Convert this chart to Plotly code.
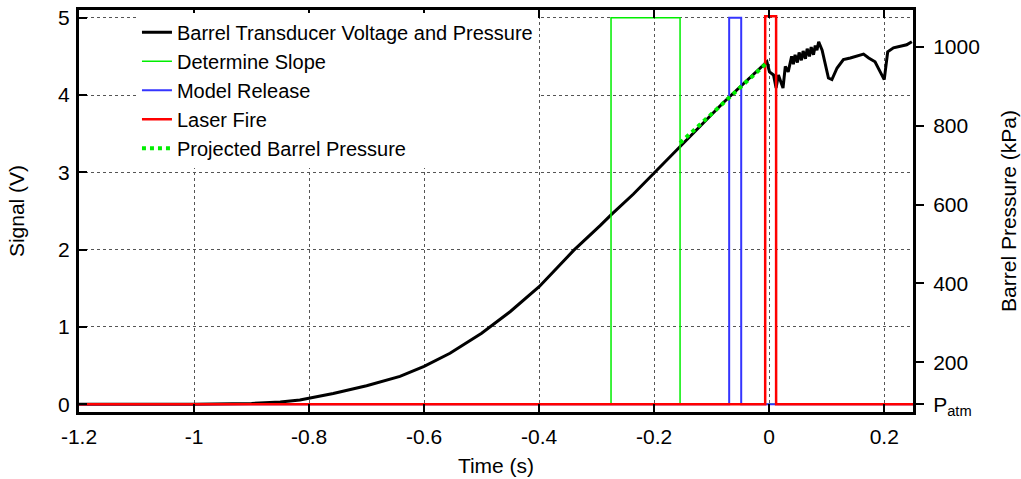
import plotly.graph_objects as go

# ---- data ----
volt_t = [-1.2, -1.0, -0.9, -0.85, -0.816, -0.8, -0.758, -0.7, -0.642, -0.6, -0.555, -0.5,
          -0.45, -0.4, -0.34, -0.294, -0.275, -0.236, -0.2, -0.161, -0.08,
          -0.004, 0.0005, 0.0075, 0.012, 0.016, 0.024, 0.028, 0.033, 0.039, 0.042,
          0.045, 0.049, 0.052, 0.056, 0.059, 0.063, 0.066, 0.07, 0.073, 0.077, 0.08, 0.083,
          0.086, 0.092, 0.103, 0.109, 0.118, 0.129, 0.141, 0.152, 0.164, 0.173, 0.184,
          0.193, 0.2, 0.206, 0.216, 0.228, 0.239, 0.248]
volt_v = [0.0, 0.0, 0.01, 0.03, 0.056, 0.077, 0.14, 0.24, 0.36, 0.49, 0.66, 0.92,
          1.20, 1.52, 1.99, 2.31, 2.45, 2.72, 2.99, 3.29, 3.9,
          4.43, 4.30, 4.26, 4.09, 4.26, 4.09, 4.37, 4.30, 4.50, 4.40,
          4.52, 4.42, 4.55, 4.45, 4.57, 4.47, 4.60, 4.50, 4.62, 4.52, 4.64, 4.58,
          4.69, 4.58, 4.22, 4.20, 4.35, 4.46, 4.48, 4.50, 4.53, 4.48, 4.43,
          4.30, 4.20, 4.56, 4.61, 4.63, 4.65, 4.69]

slope_t = [-1.2, -0.275, -0.275, -0.155, -0.155, 0.25]
slope_v = [0, 0, 5.0, 5.0, 0, 0]

release_t = [-1.2, -0.0696, -0.0696, -0.0487, -0.0487, 0.25]
release_v = [0, 0, 5.0, 5.0, 0, 0]

laser_t = [-1.2, -0.007, -0.007, 0.012, 0.012, 0.25]
laser_v = [0, 0, 5.02, 5.02, 0, 0]

proj_t = [-0.155, -0.002]
proj_v = [3.38, 4.43]

x_ticks = [-1.2, -1.0, -0.8, -0.6, -0.4, -0.2, 0.0, 0.2]
x_labels = ["-1.2", "-1", "-0.8", "-0.6", "-0.4", "-0.2", "0", "0.2"]
y_ticks = [0, 1, 2, 3, 4, 5]
p_atm = 93.3          # kPa at 0 V
kpa_per_volt = 196.1
p_ticks = [p_atm, 200, 400, 600, 800, 1000]
p_labels = ["P<sub>atm</sub>", "200", "400", "600", "800", "1000"]

v_range = [-0.1, 5.1]
p_range = [p_atm + kpa_per_volt * v for v in v_range]

FONT = "Liberation Sans, Arial, Helvetica, sans-serif"
TF = dict(family=FONT, size=21, color="black")

fig = go.Figure()
fig.add_trace(go.Scatter(x=volt_t, y=volt_v, mode="lines", name="Barrel Transducer Voltage and Pressure",
                         line=dict(color="black", width=3)))
fig.add_trace(go.Scatter(x=slope_t, y=slope_v, mode="lines", name="Determine Slope",
                         line=dict(color="#00ee00", width=1.5)))
fig.add_trace(go.Scatter(x=release_t, y=release_v, mode="lines", name="Model Release",
                         line=dict(color="#3535ff", width=2)))
fig.add_trace(go.Scatter(x=laser_t, y=laser_v, mode="lines", name="Laser Fire",
                         line=dict(color="#ff0000", width=2.5)))
fig.add_trace(go.Scatter(x=proj_t, y=proj_v, mode="lines", name="Projected Barrel Pressure",
                         line=dict(color="#00ee00", width=4, dash="dot")))
fig.add_trace(go.Scatter(x=[None], y=[None], yaxis="y2", showlegend=False, hoverinfo="skip"))

fig.update_layout(
    template="none",
    width=1021, height=479,
    margin=dict(l=79, r=108, t=10, b=67, autoexpand=False),
    paper_bgcolor="white", plot_bgcolor="white",
    font=TF,
    showlegend=True,
    legend=dict(x=0.0695, y=0.993, xanchor="left", yanchor="top", bgcolor="white",
                font=dict(family=FONT, size=20, color="black"), tracegroupgap=0, borderwidth=0),
    xaxis=dict(range=[-1.2, 0.25], tickvals=x_ticks, ticktext=x_labels, automargin=False,
               ticks="inside", ticklen=8, tickwidth=1.5, tickcolor="black", tickfont=TF,
               ticklabelstandoff=4, ticklabeloverflow="allow",
               showline=True, linewidth=3, linecolor="black", mirror="ticks",
               showgrid=True, gridcolor="#555", griddash="dot", gridwidth=1,
               zeroline=False,
               title=dict(text="Time (s)", standoff=12, font=TF)),
    yaxis=dict(range=v_range, tickvals=y_ticks, ticks="inside", ticklen=8, tickwidth=1.5,
               automargin=False, tickfont=TF, ticklabelstandoff=2, ticklabeloverflow="allow",
               tickcolor="black", showline=True, linewidth=3, linecolor="black", mirror=True,
               showgrid=True, gridcolor="#555", griddash="dot", gridwidth=1, zeroline=False,
               title=dict(text="Signal (V)", standoff=28, font=TF)),
    yaxis2=dict(range=p_range, overlaying="y", side="right", tickvals=p_ticks, ticktext=p_labels,
                ticks="outside", ticklen=8, tickwidth=1.5, tickcolor="black", automargin=False,
                tickfont=TF, ticklabelstandoff=5, ticklabeloverflow="allow",
                showline=True, linewidth=3, linecolor="black", showgrid=False, zeroline=False,
                title=dict(text="Barrel Pressure (kPa)", standoff=23, font=TF)),
)

# remove the page's default 8px body margin so the figure sits at the window origin
fig.write_html("out.html", config={"displayModeBar": False},
               post_script="document.body.style.margin='0px';")
